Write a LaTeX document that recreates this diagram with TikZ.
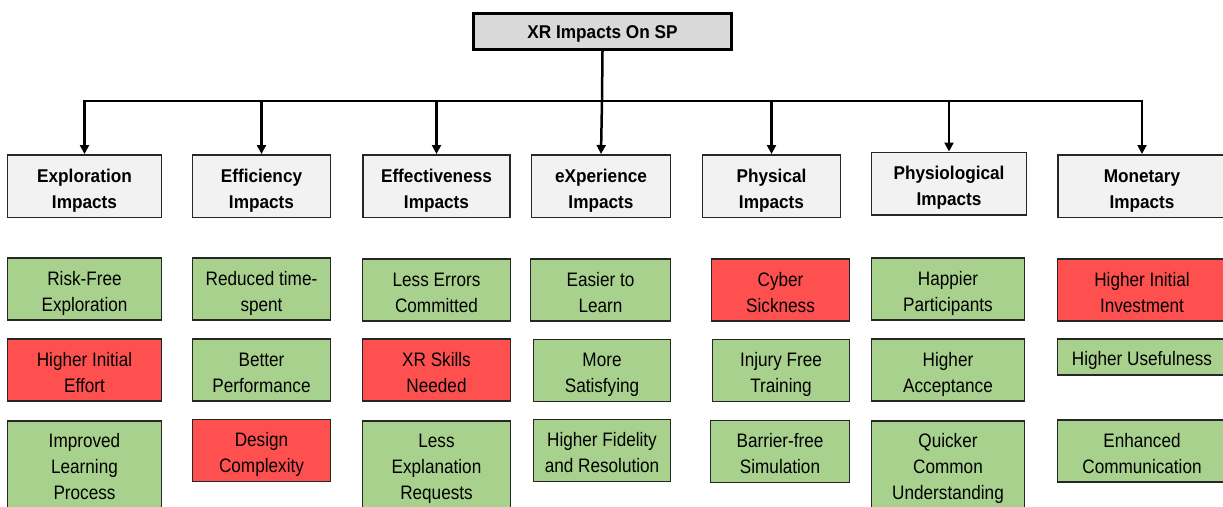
\documentclass[tikz,border=0pt]{standalone}
\usepackage{fontspec}
\setmainfont{Liberation Sans}[FakeStretch=0.93]
\newfontfamily\leaffont{Liberation Sans}[FakeStretch=0.88]
\usetikzlibrary{arrows.meta}
\definecolor{rootfill}{HTML}{D9D9D9}
\definecolor{headfill}{HTML}{F2F2F2}
\definecolor{goodfill}{HTML}{A9D18E}
\definecolor{badfill}{HTML}{FF5050}
\definecolor{edgegray}{HTML}{262626}
\newcommand{\boxtext}[2][4pt]{\raisebox{-#1}[\height][\depth]{\begin{tabular}{@{}c@{}}#2\end{tabular}}}
\tikzset{
  box/.style={inner sep=0pt},
  rootbox/.style={box, draw=black, line width=3pt, fill=rootfill, font=\fontsize{18.5}{26}\selectfont\bfseries},
  headbox/.style={box, draw=edgegray, line width=1.5pt, fill=headfill, font=\fontsize{18.5}{26}\selectfont\bfseries},
  leafbox/.style={box, draw=edgegray, line width=1.6pt, font=\leaffont\fontsize{19.5}{26}\selectfont},
  goodbox/.style={leafbox, fill=goodfill},
  badbox/.style={leafbox, fill=badfill},
  conn/.style={draw=black, line width=2.5pt, -{Triangle[length=9pt,width=9pt]}},
}
\begin{document}
\begin{tikzpicture}[x=1pt,y=-1pt]
\useasboundingbox (0,0) rectangle (1223,506);
% root
\node[rootbox, minimum width=258pt, minimum height=36pt] (root) at (602.5,31.5) {\boxtext[1.8pt]{XR Impacts On SP}};
\coordinate (bus) at (602,101);
% headers
\node[headbox, minimum width=154pt, minimum height=62.5pt] (h1) at (84.5,186) {\boxtext{Exploration\\Impacts}};
\node[headbox, minimum width=138pt, minimum height=62.5pt] (h2) at (261.5,186) {\boxtext{Efficiency\\Impacts}};
\node[headbox, minimum width=147pt, minimum height=62.5pt] (h3) at (436.5,186) {\boxtext{Effectiveness\\Impacts}};
\node[headbox, minimum width=139pt, minimum height=62.5pt] (h4) at (601,186) {\boxtext{eXperience\\Impacts}};
\node[headbox, minimum width=138pt, minimum height=62.5pt] (h5) at (771.5,186) {\boxtext{Physical\\Impacts}};
\node[headbox, minimum width=155pt, minimum height=62.5pt] (h6) at (949,183.5) {\boxtext{Physiological\\Impacts}};
\node[headbox, minimum width=168pt, minimum height=62.5pt] (h7) at (1142,186) {\boxtext{Monetary\\Impacts}};
% connectors
\draw[line width=2.5pt] (root.south) -- (bus);
\draw[conn] (bus) -| (h1.north);
\draw[conn] (bus) -| (h2.north);
\draw[conn] (bus) -| (h3.north);
\draw[conn] (bus) -- (h4.north);
\draw[conn] (bus) -| (h5.north);
\draw[conn] (bus) -| (h6.north);
\draw[conn, line width=2pt] (bus) -| (h7.north);
% column 1
\node[goodbox, minimum width=154pt, minimum height=62.5pt] (a1) at (84.5,289) {\boxtext{Risk-Free\\Exploration}};
\node[badbox,  minimum width=154pt, minimum height=62.5pt] (a2) at (84.5,370) {\boxtext{Higher Initial\\Effort}};
\node[goodbox, minimum width=154pt, minimum height=90pt] (a3) at (84.5,466) {\boxtext[2pt]{Improved\\Learning\\Process}};
% column 2
\node[goodbox, minimum width=138pt, minimum height=62.5pt] (b1) at (261.5,289) {\boxtext{Reduced time-\\spent}};
\node[goodbox, minimum width=138pt, minimum height=62.5pt] (b2) at (261.5,370) {\boxtext{Better\\Performance}};
\node[badbox,  minimum width=138pt, minimum height=62pt] (b3) at (261.5,450.5) {\boxtext{Design\\Complexity}};
% column 3
\node[goodbox, minimum width=148pt, minimum height=62.5pt] (c1) at (436.5,290) {\boxtext{Less Errors\\Committed}};
\node[badbox,  minimum width=148pt, minimum height=62.5pt] (c2) at (436.5,370) {\boxtext{XR Skills\\Needed}};
\node[goodbox, minimum width=148pt, minimum height=90pt] (c3) at (436.5,466) {\boxtext[2pt]{Less\\Explanation\\Requests}};
% column 4
\node[goodbox, minimum width=140pt, minimum height=62.5pt] (d1) at (600.5,290) {\boxtext{Easier to\\Learn}};
\node[goodbox, minimum width=137pt, minimum height=62pt] (d2) at (602,370.5) {\boxtext{More\\Satisfying}};
\node[goodbox, minimum width=137pt, minimum height=62pt] (d3) at (602,450.5) {\boxtext{Higher Fidelity\\and Resolution}};
% column 5
\node[badbox,  minimum width=138pt, minimum height=62.5pt] (e1) at (780.5,290) {\boxtext{Cyber\\Sickness}};
\node[goodbox, minimum width=137pt, minimum height=62pt] (e2) at (781,370.5) {\boxtext{Injury Free\\Training}};
\node[goodbox, minimum width=139pt, minimum height=62pt] (e3) at (780,451.5) {\boxtext{Barrier-free\\Simulation}};
% column 6
\node[goodbox, minimum width=153pt, minimum height=62.5pt] (f1) at (948,289) {\boxtext{Happier\\Participants}};
\node[goodbox, minimum width=153pt, minimum height=62.5pt] (f2) at (948,370) {\boxtext{Higher\\Acceptance}};
\node[goodbox, minimum width=153pt, minimum height=90pt] (f3) at (948,466) {\boxtext[2pt]{Quicker\\Common\\Understanding}};
% column 7
\node[badbox,  minimum width=169pt, minimum height=62.5pt] (g1) at (1142,290) {\boxtext{Higher Initial\\Investment}};
\node[goodbox, minimum width=169pt, minimum height=36.5pt] (g2) at (1142,357) {\boxtext[3pt]{Higher Usefulness}};
\node[goodbox, minimum width=169pt, minimum height=62.5pt] (g3) at (1142,451) {\boxtext{Enhanced\\Communication}};
\end{tikzpicture}
\end{document}
